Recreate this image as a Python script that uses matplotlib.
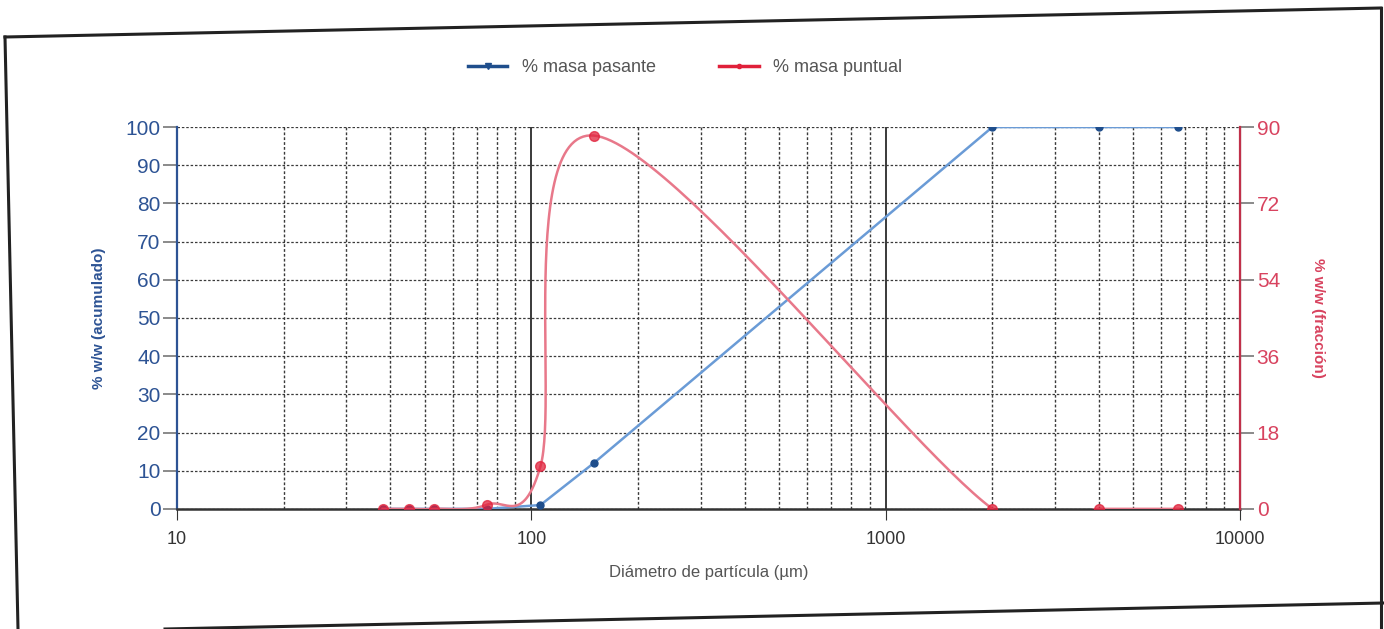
import numpy as np
import matplotlib
matplotlib.use("Agg")
import matplotlib.pyplot as plt
from matplotlib.lines import Line2D
from matplotlib.ticker import FixedLocator, NullFormatter

# ---- data ----
diametro = [38, 45, 53, 75, 106, 150, 2000, 4000, 6700]
masa_pasante = [0, 0, 0, 0, 1, 12, 100, 100, 100]
masa_puntual = [0, 0, 0, 1, 10, 88, 0, 0, 0]
x_ticks = [10, 100, 1000, 10000]
y_left_ticks = [0, 10, 20, 30, 40, 50, 60, 70, 80, 90, 100]
y_right_ticks = [0, 18, 36, 54, 72, 90]

BLUE_TXT = "#2d5394"
BLUE_LINE = "#6a9bd6"
BLUE_MK = "#1f4e8c"
RED_TXT = "#d8435f"
RED_LINE = "#e8788a"
RED_MK = "#e0203a"
GRID = "#3a3a3a"

plt.rcParams['font.family'] = ['Liberation Sans', 'DejaVu Sans']

fig = plt.figure(figsize=(13.84, 6.29), dpi=100)
ax = fig.add_axes([0.128, 0.191, 0.768, 0.607])
ax2 = ax.twinx()

ax.set_xscale('log')
ax.set_xlim(10, 10000)
ax.set_ylim(0, 100)
ax2.set_ylim(0, 90)

# grid
ax.xaxis.set_minor_locator(FixedLocator([m * d for d in (10, 100, 1000) for m in range(2, 10)]))
ax.xaxis.set_minor_formatter(NullFormatter())
ax.set_xticks(x_ticks)
ax.set_xticklabels([str(v) for v in x_ticks])
ax.grid(which='major', axis='x', color=GRID, lw=1.4, ls='-')
ax.grid(which='minor', axis='x', color=GRID, lw=1.0, ls=(0, (2, 1.5)))
ax.set_yticks(y_left_ticks)
ax.grid(which='major', axis='y', color=GRID, lw=0.9, ls=(0, (2, 1.5)))
ax.tick_params(axis='x', which='minor', length=0)

# Excel-like smooth line for the red series (in display-like scaled coordinates)
def smooth(xs, ys, sx=355.0, sy=382.0 / 90.0, n=60):
    P = np.column_stack([np.log10(xs) * sx, np.asarray(ys, float) * sy])
    out = [P[0]]
    m = len(P)
    for i in range(m - 1):
        p0 = P[i - 1] if i > 0 else P[i]
        p1 = P[i]
        p2 = P[i + 1]
        p3 = P[i + 2] if i + 2 < m else P[i + 1]
        c1 = p1 + (p2 - p0) / 6.0
        c2 = p2 - (p3 - p1) / 6.0
        t = np.linspace(0, 1, n)[1:, None]
        seg = ((1 - t) ** 3) * p1 + 3 * ((1 - t) ** 2) * t * c1 + 3 * (1 - t) * t ** 2 * c2 + t ** 3 * p2
        out.extend(seg)
    out = np.array(out)
    return 10 ** (out[:, 0] / sx), out[:, 1] / sy

# blue series
ax.plot(diametro, masa_pasante, color=BLUE_LINE, lw=1.8, zorder=4)
ax.plot(diametro, masa_pasante, ls='none', marker='o', ms=5, color=BLUE_MK, zorder=5)

# red series
sx_, sy_ = smooth(diametro, masa_puntual)
ax2.plot(sx_, sy_, color=RED_LINE, lw=1.8, zorder=4)
ax2.plot(diametro, masa_puntual, ls='none', marker='o', ms=7, color=RED_MK, alpha=0.75, zorder=5)

# spines and ticks
ax.spines['top'].set_visible(False)
ax2.spines['top'].set_visible(False)
ax.spines['left'].set_color(BLUE_TXT)
ax.spines['left'].set_linewidth(1.6)
ax.spines['bottom'].set_color("#333333")
ax.spines['bottom'].set_linewidth(1.8)
ax2.spines['right'].set_color("#c0304a")
ax2.spines['right'].set_linewidth(1.6)
ax2.spines['left'].set_visible(False)
ax2.spines['bottom'].set_visible(False)

ax.tick_params(axis='y', colors="#777777", labelcolor=BLUE_TXT, labelsize=15, length=10, width=1.2, pad=2)
ax.tick_params(axis='x', which='major', colors="#333333", labelcolor="#333333", labelsize=13, length=8, pad=8)
ax2.set_yticks(y_right_ticks)
ax2.tick_params(axis='y', colors="#777777", labelcolor=RED_TXT, labelsize=15, length=10, width=1.2, pad=2)

ax.set_ylabel("% w/w (acumulado)", color=BLUE_TXT, fontsize=11, fontweight='bold', labelpad=14)
ax2.set_ylabel("% w/w (fracción)", color=RED_TXT, fontsize=11, fontweight='bold', rotation=270, labelpad=32)
ax.set_xlabel("Diámetro de partícula (µm)", color="#555555", fontsize=12, labelpad=12)

# legend
handles = [
    Line2D([], [], color=BLUE_MK, lw=2.5, marker='v', ms=4),
    Line2D([], [], color=RED_MK, lw=2.5, marker='o', ms=3),
]
fig.legend(handles, ["% masa pasante", "% masa puntual"], loc='center', bbox_to_anchor=(0.495, 0.892),
           ncol=2, frameon=False, fontsize=13, handlelength=2.2, columnspacing=3.5,
           labelcolor="#555555")

# scanned page frame
frame_pts = [(5, 37), (1381, 8), (1384, 603), (18, 629)]
W, H = 1384, 629
for (x0, y0), (x1, y1) in [(frame_pts[0], frame_pts[1]), (frame_pts[0], (18, 629)), (frame_pts[1], (1381, 629)), ((165, 629), (1384, 603))]:
    fig.add_artist(Line2D([x0 / W, x1 / W], [1 - y0 / H, 1 - y1 / H], color='#222222', lw=2.2))

fig.savefig("out.png", dpi=100, facecolor='white')
